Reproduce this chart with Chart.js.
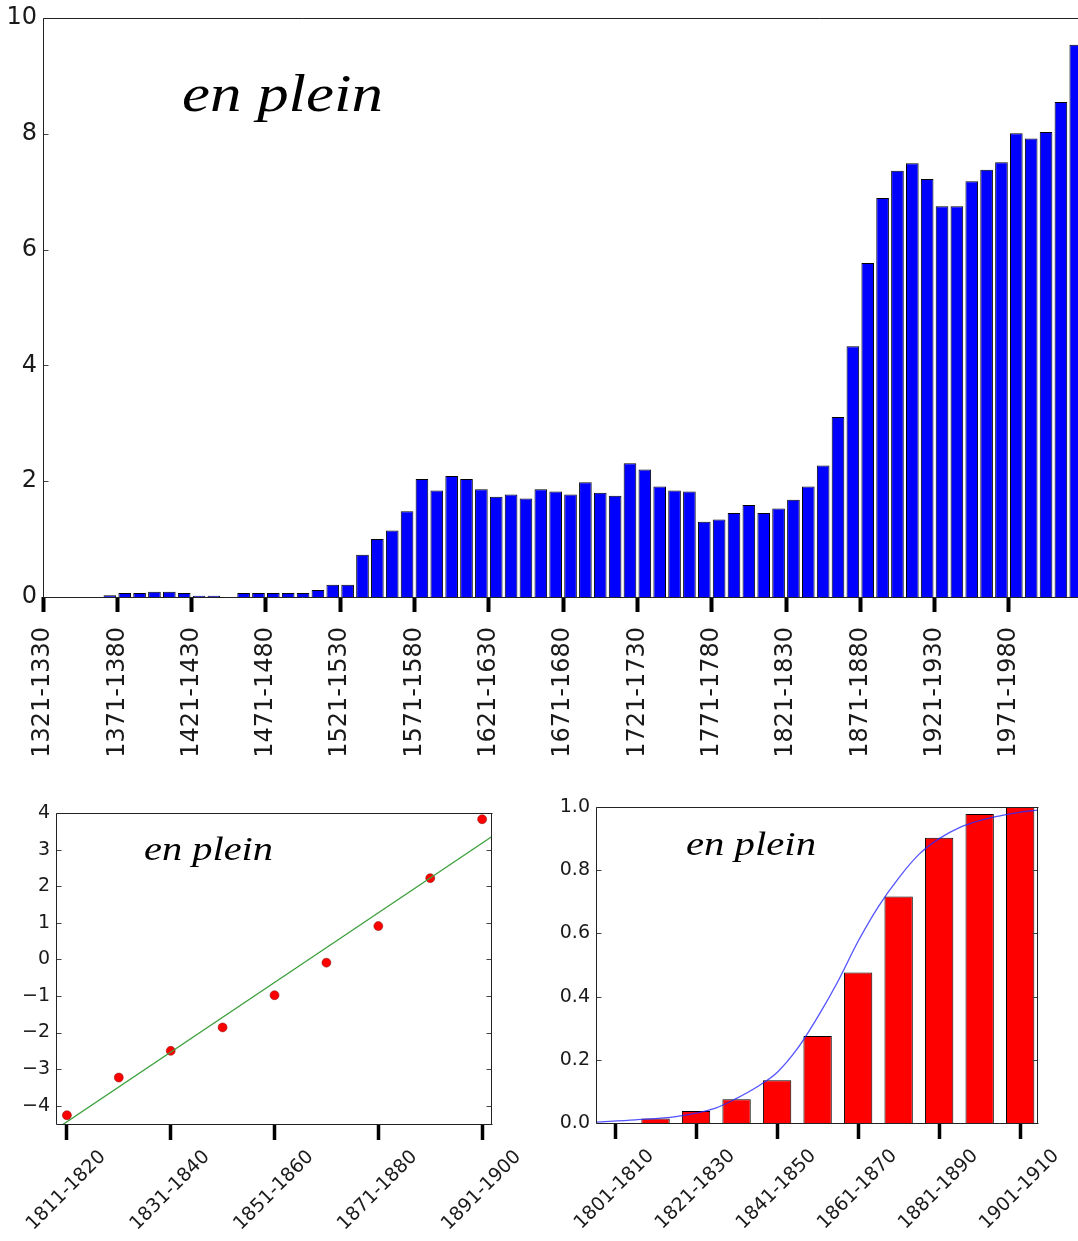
<!DOCTYPE html>
<html>
<head>
<meta charset="utf-8">
<script src="https://cdn.jsdelivr.net/npm/chart.js@4.4.1/dist/chart.umd.min.js"></script>
<style>
  html, body { margin: 0; padding: 0; background: #fff; overflow: hidden; }
  canvas { position: absolute; }
  #top { left: 0; top: 0; }
  #fit { left: 0; top: 790px; }
  #share { left: 540px; top: 790px; }
</style>
</head>
<body>
<canvas id="top" width="1078" height="780"></canvas>
<canvas id="fit" width="540" height="451"></canvas>
<canvas id="share" width="538" height="451"></canvas>
<script>
// decades shown on the big bar chart
var decades = [
  '1321-1330','1331-1340','1341-1350','1351-1360','1361-1370','1371-1380','1381-1390','1391-1400','1401-1410','1411-1420',
  '1421-1430','1431-1440','1441-1450','1451-1460','1461-1470','1471-1480','1481-1490','1491-1500','1501-1510','1511-1520',
  '1521-1530','1531-1540','1541-1550','1551-1560','1561-1570','1571-1580','1581-1590','1591-1600','1601-1610','1611-1620',
  '1621-1630','1631-1640','1641-1650','1651-1660','1661-1670','1671-1680','1681-1690','1691-1700','1701-1710','1711-1720',
  '1721-1730','1731-1740','1741-1750','1751-1760','1761-1770','1771-1780','1781-1790','1791-1800','1801-1810','1811-1820',
  '1821-1830','1831-1840','1841-1850','1851-1860','1861-1870','1871-1880','1881-1890','1891-1900','1901-1910','1911-1920',
  '1921-1930','1931-1940','1941-1950','1951-1960','1961-1970','1971-1980','1981-1990','1991-2000','2001-2010','2011-2020'
];
var enPlein = [
  0, 0, 0, 0, 0.03, 0.07, 0.07, 0.09, 0.09, 0.07,
  0.02, 0.02, 0, 0.07, 0.07, 0.07, 0.07, 0.07, 0.12, 0.21,
  0.21, 0.73, 1.00, 1.15, 1.48, 2.04, 1.84, 2.09, 2.04, 1.86,
  1.73, 1.77, 1.70, 1.86, 1.82, 1.77, 1.98, 1.80, 1.75, 2.31,
  2.20, 1.91, 1.84, 1.82, 1.30, 1.34, 1.45, 1.59, 1.45, 1.53,
  1.68, 1.91, 2.27, 3.11, 4.33, 5.77, 6.89, 7.36, 7.49, 7.22,
  6.75, 6.75, 7.18, 7.38, 7.51, 8.01, 7.92, 8.03, 8.55, 9.54
];

// 19th century detail, log scale with a straight fit
var fitDecades = ['1811-1820','1821-1830','1831-1840','1841-1850','1851-1860','1861-1870','1871-1880','1881-1890','1891-1900'];
var fitPoints = [-4.26, -3.23, -2.50, -1.86, -0.98, -0.09, 0.91, 2.22, 3.83];
var fitLineX = [-0.21, 8.19];
var fitLineY = [-4.64, 3.36];

// share reached by decade, with the smooth curve over it
var shareDecades = ['1801-1810','1811-1820','1821-1830','1831-1840','1841-1850','1851-1860','1861-1870','1871-1880','1881-1890','1891-1900','1901-1910'];
var shareBars = [0, 0.014, 0.038, 0.075, 0.135, 0.275, 0.476, 0.717, 0.903, 0.978, 1.0];
var curveX = [-0.47, 0.5, 1.5, 2.5, 3.0, 3.5, 4.0, 4.5, 5.0, 5.5, 6.0, 6.5, 7.0, 7.5, 8.0, 8.5, 9.0, 9.5, 10.0, 10.44];
var curveY = [0.003, 0.010, 0.020, 0.048, 0.078, 0.114, 0.160, 0.235, 0.335, 0.448, 0.575, 0.685, 0.775, 0.850, 0.900, 0.935, 0.957, 0.972, 0.984, 0.990];

Chart.defaults.font.family = 'DejaVu Sans';
Chart.defaults.color = '#1a1a1a';
Chart.defaults.animation = false;

// axes box plus the small inward ticks on the y spines
var framePlugin = {
  id: 'frame',
  afterDatasetsDraw: function(chart, args, opts) {
    var a = chart.chartArea, ctx = chart.ctx, ys = chart.scales.y;
    var l = Math.round(a.left) + 0.5, t = Math.round(a.top) + 0.5;
    var r = Math.round(a.right) - 0.5, b = Math.round(a.bottom) + 0.5;
    ctx.save();
    ctx.lineWidth = 1;
    ctx.strokeStyle = '#444';
    ctx.beginPath();
    ys.ticks.forEach(function(tk) {
      var py = Math.round(ys.getPixelForValue(tk.value)) + 0.5;
      ctx.moveTo(l, py); ctx.lineTo(l + 5, py);
      if (opts.right !== false) { ctx.moveTo(r, py); ctx.lineTo(r - 5, py); }
    });
    ctx.stroke();
    ctx.strokeStyle = '#222';
    ctx.beginPath();
    ctx.moveTo(l, b); ctx.lineTo(l, t); ctx.lineTo(r + 1, t);
    if (opts.right !== false) { ctx.moveTo(r, t); ctx.lineTo(r, b); }
    ctx.moveTo(l, b); ctx.lineTo(r + 1, b);
    ctx.stroke();
    ctx.restore();
  }
};

// italic caption inside the plot
var notePlugin = {
  id: 'note',
  afterDraw: function(chart, args, opts) {
    var a = chart.chartArea, ctx = chart.ctx;
    ctx.save();
    ctx.font = 'italic ' + opts.size + 'px "Liberation Serif"';
    ctx.fillStyle = '#000';
    var w = ctx.measureText(opts.text).width;
    ctx.translate(a.left + opts.dx, a.top + opts.dy);
    ctx.scale(opts.width / w, 1);
    ctx.fillText(opts.text, 0, 0);
    ctx.restore();
  }
};

function fixBox(w, h) {
  return function(s) {
    if (w !== null) s.width = w;
    if (h !== null) s.height = h;
    s.paddingLeft = 0; s.paddingRight = 0; s.paddingTop = 0; s.paddingBottom = 0;
  };
}

function minusLabel(v) {
  return v < 0 ? '\u2212' + Math.abs(v) : String(v);
}

new Chart(document.getElementById('top'), {
  type: 'bar',
  data: {
    datasets: [{
      data: enPlein.map(function(v, i) { return {x: i + 0.5, y: v}; }),
      backgroundColor: '#0000ff',
      borderColor: '#000',
      borderWidth: 1,
      barPercentage: 0.85,
      categoryPercentage: 1
    }]
  },
  options: {
    responsive: false,
    layout: {padding: {top: 18, right: 0, left: 0, bottom: 0}},
    plugins: {
      legend: {display: false},
      tooltip: {enabled: false},
      frame: {right: false},
      note: {text: 'en plein', size: 53, dx: 139, dy: 93, width: 201}
    },
    scales: {
      x: {
        type: 'linear', min: 0, max: 69.65, offset: false,
        border: {display: false},
        grid: {offset: false, drawOnChartArea: false, tickLength: 15, tickWidth: 4, tickColor: '#000'},
        ticks: {
          stepSize: 5, includeBounds: false, autoSkip: false,
          minRotation: 90, maxRotation: 90, padding: 15,
          font: {size: 24},
          callback: function(v) { return decades[v]; }
        },
        afterFit: fixBox(null, 183)
      },
      y: {
        min: 0, max: 10,
        border: {display: false},
        grid: {display: false, drawTicks: false},
        ticks: {stepSize: 2, padding: 6, font: {size: 24}},
        afterFit: fixBox(43, null)
      }
    }
  },
  plugins: [framePlugin, notePlugin]
});

new Chart(document.getElementById('fit'), {
  type: 'scatter',
  data: {
    datasets: [{
      type: 'line',
      data: fitLineX.map(function(x, i) { return {x: x, y: fitLineY[i]}; }),
      borderColor: '#3ca03c',
      borderWidth: 1.3,
      pointRadius: 0,
      fill: false,
      order: 1
    }, {
      data: fitPoints.map(function(v, i) { return {x: i, y: v}; }),
      backgroundColor: '#ff0000',
      borderColor: '#7a1010',
      borderWidth: 0.5,
      pointRadius: 4.5,
      order: 2
    }]
  },
  options: {
    responsive: false,
    layout: {padding: {top: 23, right: 48, left: 0, bottom: 0}},
    plugins: {
      legend: {display: false},
      tooltip: {enabled: false},
      note: {text: 'en plein', size: 34, dx: 88, dy: 47, width: 129}
    },
    scales: {
      x: {
        type: 'linear', min: -0.21, max: 8.19,
        border: {display: false},
        grid: {drawOnChartArea: false, tickLength: 16, tickWidth: 3.5, tickColor: '#000'},
        ticks: {
          stepSize: 2, includeBounds: false, autoSkip: false,
          minRotation: 45, maxRotation: 45, padding: 6, labelOffset: 36,
          font: {size: 19},
          callback: function(v) { return fitDecades[v]; }
        },
        afterFit: fixBox(null, 117)
      },
      y: {
        min: -4.5, max: 4,
        border: {display: false},
        grid: {display: false, drawTicks: false},
        ticks: {stepSize: 1, includeBounds: false, padding: 6, font: {size: 19}, callback: minusLabel},
        afterFit: fixBox(56, null)
      }
    }
  },
  plugins: [framePlugin, notePlugin]
});

new Chart(document.getElementById('share'), {
  type: 'bar',
  data: {
    datasets: [{
      type: 'line',
      data: curveX.map(function(x, i) { return {x: x, y: curveY[i]}; }),
      borderColor: 'rgba(40,40,255,0.8)',
      borderWidth: 1.3,
      pointRadius: 0,
      cubicInterpolationMode: 'monotone',
      fill: false,
      order: 1
    }, {
      data: shareBars.map(function(v, k) { return {x: k, y: v}; }),
      backgroundColor: '#ff0000',
      borderColor: '#000',
      borderWidth: 1,
      barPercentage: 0.7,
      categoryPercentage: 1,
      order: 2
    }]
  },
  options: {
    responsive: false,
    layout: {padding: {top: 17, right: 40, left: 0, bottom: 0}},
    plugins: {
      legend: {display: false},
      tooltip: {enabled: false},
      note: {text: 'en plein', size: 34, dx: 90, dy: 48, width: 130}
    },
    scales: {
      x: {
        type: 'linear', min: -0.47, max: 10.44, offset: false,
        border: {display: false},
        grid: {offset: false, drawOnChartArea: false, tickLength: 16, tickWidth: 3.5, tickColor: '#000'},
        ticks: {
          stepSize: 2, includeBounds: false, autoSkip: false,
          minRotation: 45, maxRotation: 45, padding: 6, labelOffset: 36,
          font: {size: 19},
          callback: function(v) { return shareDecades[v]; }
        },
        afterFit: fixBox(null, 118)
      },
      y: {
        min: 0, max: 1,
        border: {display: false},
        grid: {display: false, drawTicks: false},
        ticks: {stepSize: 0.2, padding: 6, font: {size: 19}, callback: function(v) { return v.toFixed(1); }},
        afterFit: fixBox(56, null)
      }
    }
  },
  plugins: [framePlugin, notePlugin]
});
</script>
</body>
</html>
